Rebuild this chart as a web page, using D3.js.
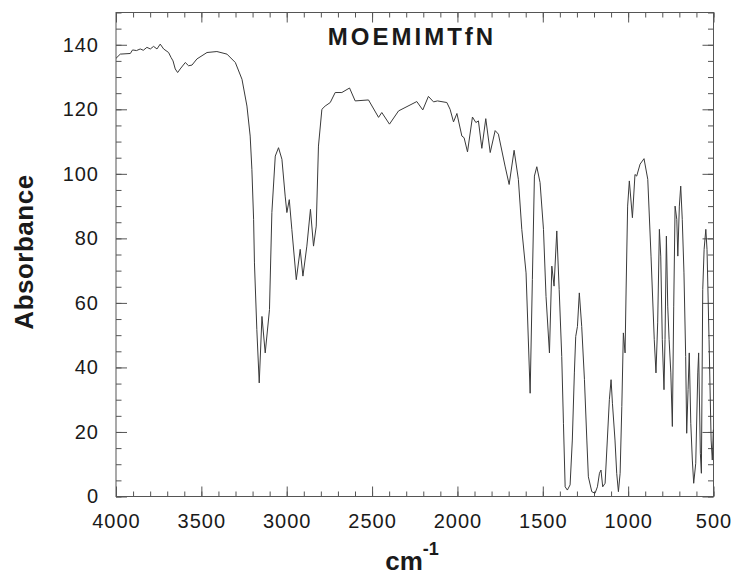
<!DOCTYPE html>
<html>
<head>
<meta charset="utf-8">
<script src="https://cdn.jsdelivr.net/npm/d3@7"></script>
<style>
  html, body { margin: 0; padding: 0; background: #fff; }
  svg { display: block; }
  text { font-family: Arial, "Liberation Sans", Helvetica, sans-serif; fill: #1a1a1a; }
</style>
</head>
<body>
<svg id="chart" width="732" height="578"></svg>
<script>
const title = "MOEMIMTfN";
const yLabel = "Absorbance";
const xTicks = [4000, 3500, 3000, 2500, 2000, 1500, 1000, 500];
const yTicks = [0, 20, 40, 60, 80, 100, 120, 140];

const wavenumber = [
  4000, 3975, 3916, 3903, 3880, 3858, 3840, 3819, 3799, 3780, 3760, 3741, 3721, 3692, 3678, 3666,
  3653, 3639, 3624, 3594, 3575, 3555, 3526, 3467, 3409, 3350, 3301, 3262, 3233, 3214, 3204, 3194,
  3189, 3175, 3161, 3145, 3126, 3101, 3087, 3067, 3048, 3028, 3009, 2999, 2985, 2970, 2944, 2921,
  2905, 2882, 2861, 2843, 2827, 2814, 2794, 2775, 2745, 2716, 2677, 2632, 2599, 2521, 2462, 2443,
  2398, 2345, 2238, 2203, 2170, 2140, 2117, 2062, 2043, 2023, 2003, 1974, 1961, 1941, 1912, 1892,
  1877, 1857, 1834, 1808, 1779, 1760, 1721, 1697, 1668, 1643, 1623, 1598, 1574, 1561, 1549, 1535,
  1516, 1496, 1481, 1461, 1447, 1434, 1418, 1404, 1389, 1379, 1369, 1356, 1340, 1327, 1315, 1307,
  1297, 1286, 1272, 1256, 1242, 1233, 1213, 1194, 1180, 1168, 1159, 1149, 1135, 1122, 1110, 1100,
  1092, 1077, 1067, 1057, 1047, 1037, 1028, 1018, 1012, 1003, 993, 975, 960, 950, 930, 907,
  885, 866, 847, 837, 827, 817, 809, 800, 790, 784, 776, 768, 760, 750, 741, 733,
  725, 715, 709, 700, 692, 683, 673, 663, 657, 649, 642, 633, 624, 616, 604, 592,
  587, 577, 571, 563, 555, 545, 538, 526, 514, 507, 501
];
const absorbance = [
  135.8, 137.1, 137.3, 138.4, 138.2, 138.7, 138.3, 139.2, 138.7, 139.5, 138.7, 140.2, 138.7, 137.6, 136.1, 135.0,
  132.5, 131.4, 132.5, 134.5, 133.5, 133.7, 135.6, 137.6, 137.9, 137.1, 134.5, 129.3, 121.0, 111.7, 101.4, 85.9,
  72.4, 51.7, 35.2, 55.8, 44.5, 57.9, 88.0, 105.5, 108.1, 104.5, 93.1, 88.0, 92.0, 82.8, 67.2, 76.6,
  68.3, 77.6, 89.0, 77.6, 83.8, 108.6, 120.0, 121.0, 122.1, 125.2, 125.2, 126.6, 122.6, 122.9, 117.5, 119.0,
  115.4, 119.5, 122.4, 119.8, 124.0, 122.3, 122.6, 122.1, 120.0, 116.1, 118.7, 111.7, 111.2, 106.8, 117.6, 115.9,
  116.4, 107.9, 117.1, 106.6, 113.4, 112.3, 102.4, 96.7, 107.3, 98.3, 82.8, 69.3, 32.0, 67.2, 99.3, 102.2,
  97.3, 82.8, 62.0, 44.5, 71.4, 65.2, 82.3, 64.1, 43.4, 22.7, 3.0, 2.0, 3.6, 17.5, 38.3, 49.6,
  52.7, 63.1, 52.7, 36.2, 17.5, 6.1, 1.5, 1.0, 3.0, 7.2, 8.2, 3.0, 4.1, 17.5, 30.0, 36.2,
  28.9, 17.5, 7.2, 1.5, 7.2, 27.9, 50.7, 44.5, 64.0, 90.0, 97.8, 86.4, 99.8, 99.3, 103.0, 104.7,
  98.3, 74.5, 48.6, 38.3, 53.8, 82.8, 74.5, 48.6, 33.1, 48.6, 80.7, 59.0, 48.6, 38.3, 21.7, 59.0,
  90.0, 85.9, 74.5, 90.0, 96.2, 85.9, 69.3, 43.4, 19.6, 33.1, 44.5, 22.7, 11.3, 4.1, 10.3, 38.3,
  44.5, 13.4, 7.2, 64.1, 76.6, 82.8, 76.6, 48.6, 17.5, 11.3, 20.7
];

const W = 732, H = 578;
const margin = { left: 116, right: 18.5, top: 12.5, bottom: 81.5 };
const svg = d3.select("#chart");

const x = d3.scaleLinear().domain([4000, 500]).range([margin.left, W - margin.right]);
const y = d3.scaleLinear().domain([0, 150]).range([H - margin.bottom, margin.top]);

const axisColor = "#555";
const minorX = d3.range(500, 4001, 100);
const minorY = d3.range(0, 151, 5);

function styleAxis(g) {
  g.select(".domain").remove();
  g.selectAll(".tick line").attr("stroke", axisColor).attr("stroke-width", 1);
}

// minor ticks (inward) on all four sides
svg.append("g").attr("transform", `translate(0,${y(0)})`)
  .call(d3.axisBottom(x).tickValues(minorX).tickSize(-5).tickFormat(""))
  .call(styleAxis);
svg.append("g").attr("transform", `translate(0,${y(150)})`)
  .call(d3.axisTop(x).tickValues(minorX).tickSize(-5).tickFormat(""))
  .call(styleAxis);
svg.append("g").attr("transform", `translate(${x(4000)},0)`)
  .call(d3.axisLeft(y).tickValues(minorY).tickSize(-5.5).tickFormat(""))
  .call(styleAxis);
svg.append("g").attr("transform", `translate(${x(500)},0)`)
  .call(d3.axisRight(y).tickValues(minorY).tickSize(-5.5).tickFormat(""))
  .call(styleAxis);

// major ticks
svg.append("g").attr("transform", `translate(0,${y(0)})`)
  .call(d3.axisBottom(x).tickValues(xTicks).tickSize(-10).tickPadding(17).tickFormat(d3.format("d")))
  .call(styleAxis)
  .call(g => g.selectAll("text").attr("font-size", 20).attr("letter-spacing", "1px").attr("fill", "#1a1a1a")
    .attr("font-family", "Arial, 'Liberation Sans', sans-serif"));
svg.append("g").attr("transform", `translate(0,${y(150)})`)
  .call(d3.axisTop(x).tickValues(xTicks).tickSize(-10).tickFormat(""))
  .call(styleAxis);
svg.append("g").attr("transform", `translate(${x(4000)},0)`)
  .call(d3.axisLeft(y).tickValues(yTicks).tickSize(-11).tickPadding(17).tickFormat(d3.format("d")))
  .call(styleAxis)
  .call(g => g.selectAll("text").attr("font-size", 20).attr("letter-spacing", "1px").attr("fill", "#1a1a1a")
    .attr("font-family", "Arial, 'Liberation Sans', sans-serif"));
svg.append("g").attr("transform", `translate(${x(500)},0)`)
  .call(d3.axisRight(y).tickValues(yTicks).tickSize(-11).tickFormat(""))
  .call(styleAxis);

// frame
svg.append("rect")
  .attr("x", x(4000)).attr("y", y(150))
  .attr("width", x(500) - x(4000)).attr("height", y(0) - y(150))
  .attr("fill", "none").attr("stroke", axisColor).attr("stroke-width", 1);

// spectrum
const pts = wavenumber.map((w, i) => [w, absorbance[i]]);
svg.append("path")
  .datum(pts)
  .attr("fill", "none")
  .attr("stroke", "#3a3a3a")
  .attr("stroke-width", 1)
  .attr("stroke-linejoin", "round")
  .attr("d", d3.line().x(d => x(d[0])).y(d => y(d[1])));

// title
svg.append("text")
  .attr("x", 412).attr("y", 45)
  .attr("text-anchor", "middle")
  .attr("font-size", 24).attr("font-weight", "bold")
  .attr("letter-spacing", "3px")
  .text(title);

// y label
svg.append("text")
  .attr("transform", `translate(33,252) rotate(-90)`)
  .attr("text-anchor", "middle")
  .attr("font-size", 26).attr("font-weight", "bold")
  .attr("letter-spacing", "0.5px")
  .text(yLabel);

// x label: cm^-1
const xl = svg.append("text")
  .attr("x", 412).attr("y", 570)
  .attr("text-anchor", "middle")
  .attr("font-size", 26).attr("font-weight", "bold");
xl.append("tspan").text("cm");
xl.append("tspan").attr("dy", -15).attr("font-size", 18).text("-1");
</script>
</body>
</html>
